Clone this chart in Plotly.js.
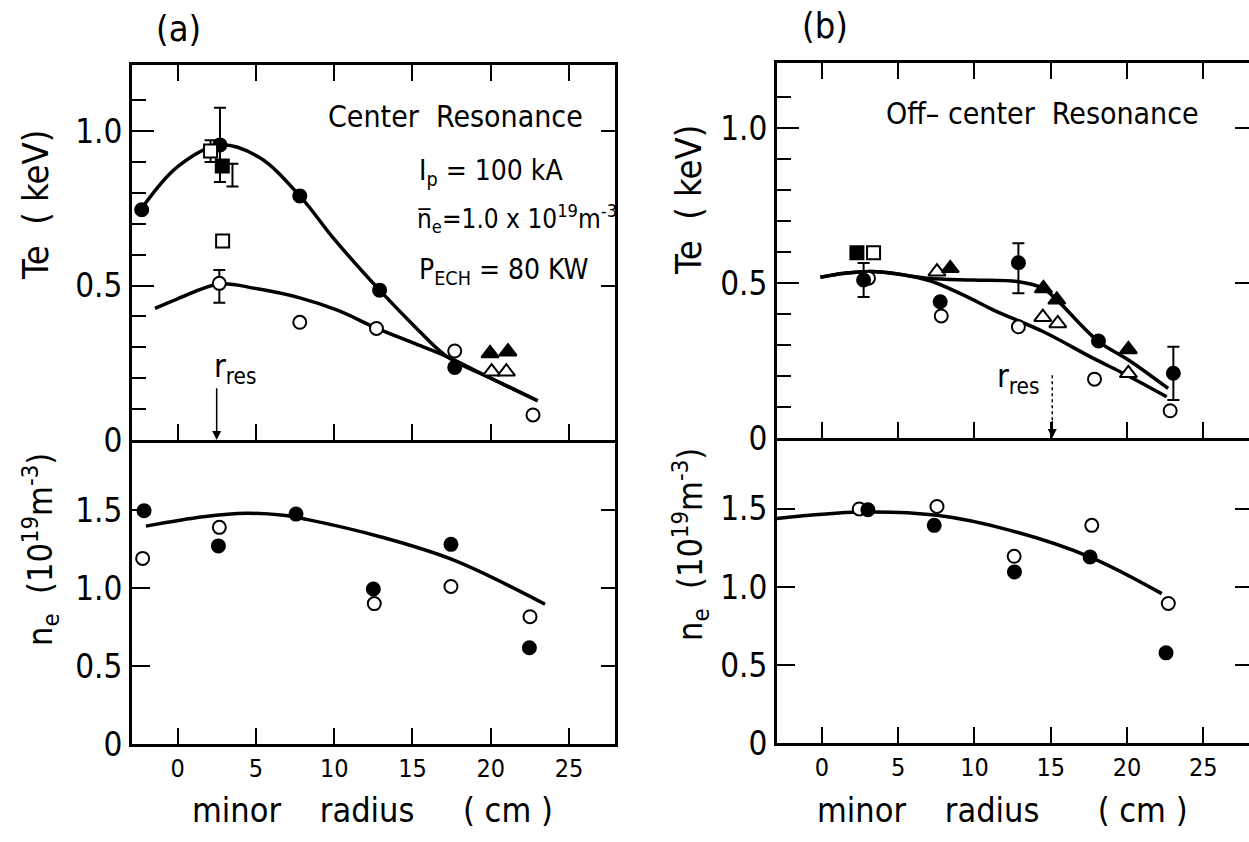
<!DOCTYPE html>
<html>
<head>
<meta charset="utf-8">
<script src="https://cdn.plot.ly/plotly-3.0.1.min.js"></script>
<style>html,body{margin:0;padding:0;background:#fff;}#chart{width:1249px;height:842px;}</style>
</head>
<body>
<div id="chart"></div>
<script>
// ---------------- Panel (a): Center Resonance ----------------
// Te, filled circles
const aTeFilledX = [-2.3, 2.7, 7.8, 12.9, 17.7];
const aTeFilledY = [0.745, 0.955, 0.79, 0.485, 0.235];
// Te, open circles
const aTeOpenX = [2.66, 7.8, 12.7, 17.7, 22.7];
const aTeOpenY = [0.507, 0.381, 0.361, 0.288, 0.081];
// Te, squares
const aSqFilledX = [2.85];
const aSqFilledY = [0.887];
const aSqOpenX = [2.1, 2.87];
const aSqOpenY = [0.935, 0.644];
// Te, triangles
const aTriFilledX = [19.96, 21.1];
const aTriFilledY = [0.28, 0.286];
const aTriOpenX = [20.06, 21.0];
const aTriOpenY = [0.221, 0.221];
// Te error bars (a)
const aErrX = [2.7, 2.66, 2.1, 3.5];
const aErrY = [0.955, 0.497, 0.935, 0.857];
const aErrV = [0.12, 0.053, 0.035, 0.037];
// Te fitted curves (a)
const aCurveFilledX = [-2.3, 0, 2.7, 5.2, 7.8, 10, 12.9, 15, 17.2, 20, 23];
const aCurveFilledY = [0.75, 0.885, 0.955, 0.915, 0.79, 0.65, 0.485, 0.375, 0.27, 0.2, 0.127];
const aCurveOpenX = [-1.45, 0, 2.66, 5, 7.8, 10.2, 12.7, 15, 17.2, 20, 23];
const aCurveOpenY = [0.426, 0.457, 0.505, 0.49, 0.46, 0.42, 0.362, 0.315, 0.27, 0.2, 0.127];
// ne (a)
const aNeFilledX = [-2.15, 2.6, 7.56, 12.5, 17.46, 22.47];
const aNeFilledY = [1.496, 1.27, 1.474, 0.994, 1.28, 0.617];
const aNeOpenX = [-2.24, 2.66, 12.56, 17.46, 22.51];
const aNeOpenY = [1.19, 1.389, 0.90, 1.01, 0.816];
const aNeCurveX = [-2.03, 1.64, 4.41, 6.75, 8.24, 12.93, 17.6, 23.47];
const aNeCurveY = [1.397, 1.457, 1.479, 1.466, 1.44, 1.329, 1.18, 0.896];
const aRres = 2.49;

// ---------------- Panel (b): Off-center Resonance ----------------
const bTeFilledX = [2.73, 7.75, 12.88, 18.13, 23.04];
const bTeFilledY = [0.51, 0.44, 0.566, 0.313, 0.209];
const bTeOpenX = [3.05, 7.82, 12.88, 17.87, 22.83];
const bTeOpenY = [0.516, 0.394, 0.359, 0.19, 0.088];
const bSqFilledX = [2.29];
const bSqFilledY = [0.598];
const bSqOpenX = [3.38];
const bSqOpenY = [0.598];
const bTriFilledX = [8.41, 14.52, 15.4, 20.09];
const bTriFilledY = [0.548, 0.483, 0.446, 0.286];
const bTriOpenX = [7.54, 14.48, 15.46, 20.09];
const bTriOpenY = [0.537, 0.39, 0.37, 0.209];
const bErrX = [2.73, 12.88, 23.04];
const bErrY = [0.51, 0.548, 0.209];
const bErrV = [0.055, 0.081, 0.086];
const bCurveUpperX = [-0.1, 1.5, 3.6, 6.9, 9.9, 12.8, 14.5, 15.4, 18.1, 20.1, 22.7];
const bCurveUpperY = [0.519, 0.532, 0.537, 0.516, 0.51, 0.505, 0.483, 0.446, 0.313, 0.252, 0.16];
const bCurveLowerX = [-0.1, 1.5, 3.6, 6.9, 9.26, 11.25, 14.52, 17.8, 19.55, 20.86, 22.6];
const bCurveLowerY = [0.519, 0.532, 0.537, 0.51, 0.462, 0.413, 0.343, 0.257, 0.214, 0.18, 0.133];
const bNeFilledX = [3.01, 7.36, 12.62, 17.58, 22.56];
const bNeFilledY = [1.495, 1.395, 1.097, 1.192, 0.579];
const bNeOpenX = [2.44, 7.54, 12.6, 17.69, 22.71];
const bNeOpenY = [1.50, 1.516, 1.197, 1.395, 0.895];
const bNeCurveX = [-2.95, 2.51, 7.54, 12.34, 17.58, 22.28];
const bNeCurveY = [1.438, 1.48, 1.459, 1.363, 1.192, 0.958];
const bRres = 15.1;

// ticks
const xTickVals = [0, 5, 10, 15, 20, 25];
const xTickText = ['0', '5', '10', '15', '20', '25'];
const teTickVals = [0, 0.5, 1.0];
const teTickText = ['0', '0.5', '1.0'];
const teMinorVals = [0.1, 0.2, 0.3, 0.4, 0.6, 0.7, 0.8, 0.9, 1.1];
const neTickVals = [0, 0.5, 1.0, 1.5];
const neTickText = ['0', '0.5', '1.0', '1.5'];

// ---------------- build ----------------
const FONT = "Liberation Sans Narrow, DejaVu Sans Condensed, Arial Narrow, sans-serif";
const W = 1249, H = 842;
const px = v => v / W;
const py = v => 1 - v / H;

function curve(x, y, xa, ya) {
  return {x, y, xaxis: xa, yaxis: ya, mode: 'lines', type: 'scatter',
    line: {color: 'black', width: 3.5, shape: 'spline', smoothing: 1}, hoverinfo: 'skip', showlegend: false};
}
function pts(x, y, xa, ya, symbol, filled, size) {
  return {x, y, xaxis: xa, yaxis: ya, mode: 'markers', type: 'scatter', showlegend: false,
    marker: {symbol, size: size || 13, color: filled ? 'black' : 'white', line: {color: 'black', width: 2}}};
}
function errs(x, y, e, xa, ya) {
  return {x, y, xaxis: xa, yaxis: ya, mode: 'markers', type: 'scatter', showlegend: false,
    marker: {size: 2, color: 'rgba(0,0,0,0)'},
    error_y: {type: 'data', array: e, visible: true, color: 'black', thickness: 2, width: 6}};
}

const traces = [
  curve(aCurveFilledX, aCurveFilledY, 'x', 'y'),
  curve(aCurveOpenX, aCurveOpenY, 'x', 'y'),
  curve(aNeCurveX, aNeCurveY, 'x2', 'y2'),
  curve(bCurveUpperX, bCurveUpperY, 'x3', 'y3'),
  curve(bCurveLowerX, bCurveLowerY, 'x3', 'y3'),
  curve(bNeCurveX, bNeCurveY, 'x4', 'y4'),
  errs(aErrX, aErrY, aErrV, 'x', 'y'),
  errs(bErrX, bErrY, bErrV, 'x3', 'y3'),
  pts(aTeOpenX, aTeOpenY, 'x', 'y', 'circle', false),
  pts(aTeFilledX, aTeFilledY, 'x', 'y', 'circle', true),
  pts(aSqOpenX, aSqOpenY, 'x', 'y', 'square', false),
  pts(aSqFilledX, aSqFilledY, 'x', 'y', 'square', true),
  pts(aTriFilledX, aTriFilledY, 'x', 'y', 'triangle-up', true, 15),
  pts(aTriOpenX, aTriOpenY, 'x', 'y', 'triangle-up', false, 15),
  pts(aNeOpenX, aNeOpenY, 'x2', 'y2', 'circle', false),
  pts(aNeFilledX, aNeFilledY, 'x2', 'y2', 'circle', true),
  pts(bSqFilledX, bSqFilledY, 'x3', 'y3', 'square', true),
  pts(bSqOpenX, bSqOpenY, 'x3', 'y3', 'square', false),
  pts(bTeOpenX, bTeOpenY, 'x3', 'y3', 'circle', false),
  pts(bTeFilledX, bTeFilledY, 'x3', 'y3', 'circle', true),
  pts(bTriOpenX, bTriOpenY, 'x3', 'y3', 'triangle-up', false, 15),
  pts(bTriFilledX, bTriFilledY, 'x3', 'y3', 'triangle-up', true, 15),
  pts(bNeOpenX, bNeOpenY, 'x4', 'y4', 'circle', false),
  pts(bNeFilledX, bNeFilledY, 'x4', 'y4', 'circle', true),
  // carriers for right-side tick axes
  {x: [null], y: [null], xaxis: 'x', yaxis: 'y5', type: 'scatter', mode: 'markers', showlegend: false},
  {x: [null], y: [null], xaxis: 'x2', yaxis: 'y6', type: 'scatter', mode: 'markers', showlegend: false},
  {x: [null], y: [null], xaxis: 'x3', yaxis: 'y7', type: 'scatter', mode: 'markers', showlegend: false},
  {x: [null], y: [null], xaxis: 'x4', yaxis: 'y8', type: 'scatter', mode: 'markers', showlegend: false}
];

const base = {showline: true, linewidth: 3, linecolor: 'black', ticks: 'inside', tickcolor: 'black',
  tickwidth: 2, showgrid: false, zeroline: false, fixedrange: true};
const xTickFont = {family: FONT, size: 25, color: 'black'};
const yTickFont = {family: FONT, size: 33, color: 'black'};

const aXDom = [px(132), px(615)];
const bXDom = [px(777), 1.0];
const aTopDom = [py(440), py(65)], aBotDom = [py(744), py(440)];
const bTopDom = [py(438), py(63)], bBotDom = [py(743.3), py(438)];
const aTeRange = [0, 1.2136], aNeRange = [0, 1.949];
const bTeRange = [0, 1.2108], bNeRange = [0, 1.954];

function rightAxis(over, anchor, dom, range, vals, len) {
  return Object.assign({}, base, {overlaying: over, side: 'right', anchor: anchor, domain: dom, range: range,
    showline: false, tickmode: 'array', tickvals: vals, ticklen: len, showticklabels: false});
}

const layout = {
  width: W, height: H, margin: {l: 0, r: 0, t: 0, b: 0}, paper_bgcolor: 'white', plot_bgcolor: 'rgba(0,0,0,0)',
  showlegend: false, font: {family: FONT, color: 'black'},
  xaxis: Object.assign({}, base, {domain: aXDom, range: [-2.92, 27.94], anchor: 'y', tickmode: 'array',
    tickvals: xTickVals, ticklen: 16, mirror: 'ticks', showticklabels: false}),
  xaxis2: Object.assign({}, base, {domain: aXDom, range: [-2.92, 27.94], anchor: 'y2', tickmode: 'array',
    tickvals: xTickVals, ticktext: xTickText, ticklen: 16, tickfont: xTickFont}),
  xaxis3: Object.assign({}, base, {domain: bXDom, range: [-2.95, 28.0], anchor: 'y3', tickmode: 'array',
    tickvals: xTickVals, ticklen: 16, mirror: 'ticks', showticklabels: false}),
  xaxis4: Object.assign({}, base, {domain: bXDom, range: [-2.95, 28.0], anchor: 'y4', tickmode: 'array',
    tickvals: xTickVals, ticktext: xTickText, ticklen: 16, tickfont: xTickFont}),
  yaxis: Object.assign({}, base, {domain: aTopDom, range: aTeRange, anchor: 'x', tickmode: 'array',
    tickvals: teTickVals, ticktext: teTickText, ticklen: 22, mirror: true, tickfont: yTickFont,
    minor: {tickmode: 'array', tickvals: teMinorVals, ticklen: 14, tickwidth: 2, ticks: 'inside', tickcolor: 'black'}}),
  yaxis2: Object.assign({}, base, {domain: aBotDom, range: aNeRange, anchor: 'x2', tickmode: 'array',
    tickvals: neTickVals, ticktext: neTickText, ticklen: 18, mirror: true, tickfont: yTickFont}),
  yaxis3: Object.assign({}, base, {domain: bTopDom, range: bTeRange, anchor: 'x3', tickmode: 'array',
    tickvals: teTickVals, ticktext: teTickText, ticklen: 22, tickfont: yTickFont,
    minor: {tickmode: 'array', tickvals: teMinorVals, ticklen: 14, tickwidth: 2, ticks: 'inside', tickcolor: 'black'}}),
  yaxis4: Object.assign({}, base, {domain: bBotDom, range: bNeRange, anchor: 'x4', tickmode: 'array',
    tickvals: neTickVals, ticktext: neTickText, ticklen: 18, tickfont: yTickFont}),
  yaxis5: rightAxis('y', 'x', aTopDom, aTeRange, [0.5, 1.0], 14),
  yaxis6: rightAxis('y2', 'x2', aBotDom, aNeRange, [0.5, 1.0, 1.5], 14),
  yaxis7: rightAxis('y3', 'x3', bTopDom, bTeRange, [0.5, 1.0], 14),
  yaxis8: rightAxis('y4', 'x4', bBotDom, bNeRange, [0.5, 1.0, 1.5], 14),
  shapes: [
    {type: 'line', xref: 'x3', yref: 'y3', x0: bRres, x1: bRres, y0: 0.203, y1: 0.04,
      line: {color: 'black', width: 1.5, dash: 'dot'}}
  ],
  annotations: []
};

function txt(text, x, y, size, opts) {
  return Object.assign({text, xref: 'paper', yref: 'paper', x: px(x), y: py(y), showarrow: false,
    font: {family: FONT, size, color: 'black'}, xanchor: 'center', yanchor: 'middle'}, opts || {});
}
const A = layout.annotations;
A.push(txt('(a)', 178, 28, 36));
A.push(txt('(b)', 825, 26, 36));
A.push(txt('Center\u00a0\u00a0Resonance', 455, 116, 30));
A.push(txt('Off\u2013\u00a0center\u00a0\u00a0Resonance', 1042, 113, 30));
A.push(txt('I<sub>p</sub>\u00a0=\u00a0100\u00a0kA', 417, 172, 28, {xanchor: 'left'}));
A.push(txt('n\u0305<sub>e</sub>=1.0\u00a0x\u00a010<sup>19</sup>m<sup>-3</sup>', 415, 219, 26, {xanchor: 'left'}));
A.push(txt('P<sub>ECH</sub>\u00a0=\u00a080\u00a0KW', 417, 271, 28, {xanchor: 'left'}));
A.push(txt('Te\u00a0\u00a0(\u00a0keV)', 35, 205, 36, {textangle: -90}));
A.push(txt('n<sub>e</sub>\u00a0\u00a0(10<sup>19</sup>m<sup>-3</sup>)', 40, 550, 34, {textangle: -90}));
A.push(txt('Te\u00a0\u00a0(\u00a0keV)', 688, 200, 36, {textangle: -90}));
A.push(txt('n<sub>e</sub>\u00a0\u00a0(10<sup>19</sup>m<sup>-3</sup>)', 690, 545, 34, {textangle: -90}));
A.push(txt('minor\u00a0\u00a0\u00a0\u00a0radius\u00a0\u00a0\u00a0\u00a0\u00a0(\u00a0cm\u00a0)', 372, 810, 34));
A.push(txt('minor\u00a0\u00a0\u00a0\u00a0radius\u00a0\u00a0\u00a0\u00a0\u00a0\u00a0(\u00a0cm\u00a0)', 1002, 810, 34));
A.push(txt('r<sub>res</sub>', 212, 368, 32, {xanchor: 'left'}));
A.push(txt('r<sub>res</sub>', 995, 378, 32, {xanchor: 'left'}));
// r_res arrows
A.push({xref: 'x', yref: 'y', axref: 'x', ayref: 'y', x: aRres, y: 0, ax: aRres, ay: 0.172, text: '',
  showarrow: true, arrowhead: 2, arrowsize: 1.2, arrowwidth: 1.5, arrowcolor: 'black', standoff: 0, startstandoff: 0});
A.push({xref: 'x3', yref: 'y3', axref: 'x3', ayref: 'y3', x: bRres, y: 0, ax: bRres, ay: 0.06, text: '',
  showarrow: true, arrowhead: 2, arrowsize: 1.2, arrowwidth: 1.5, arrowcolor: 'black', standoff: 0, startstandoff: 0});

Plotly.newPlot('chart', traces, layout, {displayModeBar: false, staticPlot: true});
</script>
</body>
</html>
